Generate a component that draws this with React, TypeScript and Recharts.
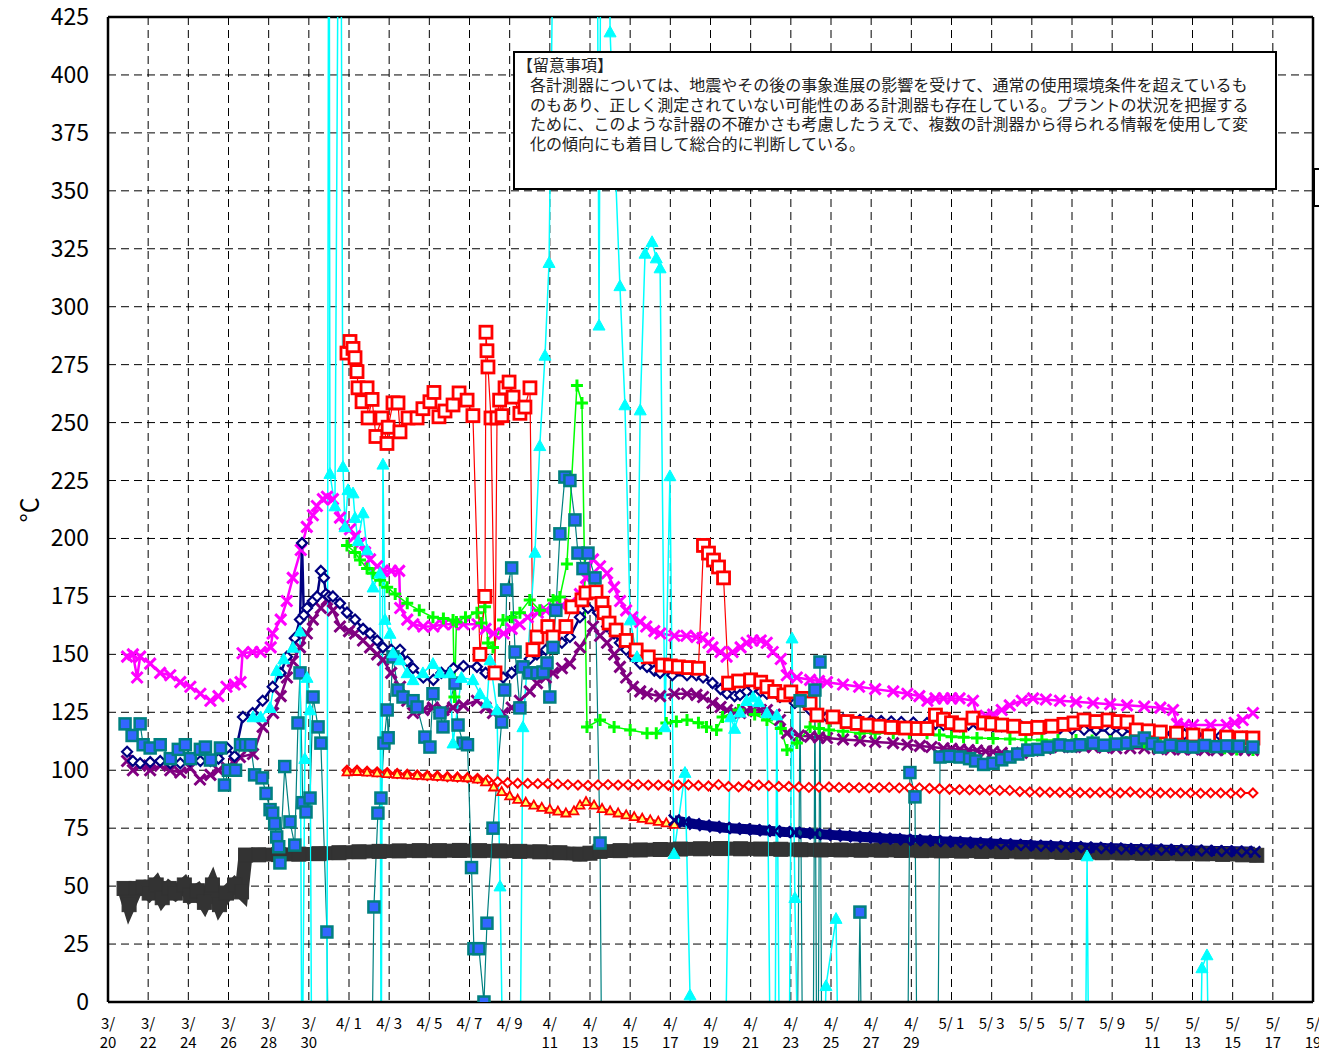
import React from 'react';
import { LineChart, Line, XAxis, YAxis, CartesianGrid, ReferenceLine } from 'recharts';

type Pt = [number, number | null];

// x = days since 3/20 0:00
const xTicks = [0, 2, 4, 6, 8, 10, 12, 14, 16, 18, 20, 22, 24, 26, 28, 30, 32, 34, 36, 38, 40, 42, 44, 46, 48, 50, 52, 54, 56, 58, 60];
const xTickLabels = [
  '3/\n20', '3/\n22', '3/\n24', '3/\n26', '3/\n28', '3/\n30', '4/ 1', '4/ 3', '4/ 5', '4/ 7', '4/ 9',
  '4/\n11', '4/\n13', '4/\n15', '4/\n17', '4/\n19', '4/\n21', '4/\n23', '4/\n25', '4/\n27', '4/\n29',
  '5/ 1', '5/ 3', '5/ 5', '5/ 7', '5/ 9', '5/\n11', '5/\n13', '5/\n15', '5/\n17', '5/\n19',
];
const yTicks = [0, 25, 50, 75, 100, 125, 150, 175, 200, 225, 250, 275, 300, 325, 350, 375, 400, 425];

const noteTitle = '【留意事項】';
const noteLines = [
  '各計測器については、地震やその後の事象進展の影響を受けて、通常の使用環境条件を超えているも',
  'のもあり、正しく測定されていない可能性のある計測器も存在している。プラントの状況を把握する',
  'ために、このような計器の不確かさも考慮したうえで、複数の計測器から得られる情報を使用して変',
  '化の傾向にも着目して総合的に判断している。',
];

const magenta: Pt[] = [
  [0.95, 149], [1.24, 150], [1.45, 140], [1.6, 149], [2.1, 146], [2.6, 142], [3.1, 141], [3.6, 138], [4.1, 136],
  [4.6, 133], [5.1, 130], [5.5, 132], [5.9, 136], [6.3, 137], [6.6, 138], [6.7, 150.5], [7.2, 151], [7.6, 151],
  [8.1, 153], [8.2, 159], [8.6, 165], [8.9, 173], [9.2, 183], [9.6, 195], [9.9, 205], [10.2, 210], [10.4, 214],
  [10.7, 217], [10.9, 218], [11.2, 217], [11.55, 209], [11.8, 206], [12.05, 204], [12.3, 201], [12.55, 198],
  [12.8, 194], [13.05, 191], [13.4, 188], [13.7, 186], [14.1, 186], [14.5, 186], [14.55, 170], [14.9, 165],
  [15.2, 163], [15.7, 162], [16.2, 162], [16.7, 163], [17.2, 163], [17.7, 163], [18.4, 163], [18.8, 161],
  [19.2, 159], [19.7, 159], [20.1, 161], [20.5, 163], [20.9, 166], [21.4, 168], [21.8, 169], [22.2, 170],
  [22.6, 171], [23.0, 172], [23.5, 176], [23.8, 183], [24.15, 191], [24.5, 188], [24.85, 185], [25.2, 179],
  [25.5, 173], [25.8, 169], [26.1, 166], [26.5, 164], [26.8, 162], [27.2, 160], [27.5, 159], [28.2, 158],
  [28.8, 158], [29.3, 157.5], [29.6, 157], [29.9, 155], [30.1, 153], [30.5, 151], [30.8, 149], [31.1, 151],
  [31.5, 153], [31.8, 155], [32.1, 156], [32.5, 156], [32.8, 155], [33.1, 151], [33.5, 148], [33.8, 141],
  [34.3, 140], [34.96, 139], [35.4, 138.5], [35.8, 138], [36.6, 137], [37.4, 136], [38.2, 135], [39.1, 134],
  [39.8, 133], [40.4, 132], [40.8, 130], [41.2, 131], [41.6, 131], [42.0, 131], [42.4, 131], [43.07, 130],
  [43.27, 123], [43.7, 123.5], [44.07, 124], [44.5, 126], [44.9, 128], [45.5, 130], [46.06, 131], [46.7, 130.5],
  [47.4, 130], [48.2, 129.5], [49.05, 129], [49.9, 128.5], [50.74, 128], [51.6, 127.5], [52.4, 127], [53.03, 126],
  [53.23, 120], [53.6, 119.5], [54.03, 119.5], [54.9, 119.5], [55.7, 119.5], [56.1, 120.5], [56.5, 121.7], [57.01, 124.7],
];

const navyDiamond: Pt[] = [
  [0.95, 108], [1.24, 104], [1.6, 103], [2.1, 103.5], [2.6, 104], [3.1, 103], [3.6, 103], [4.1, 104], [4.6, 104],
  [5.1, 104], [5.5, 105], [5.93, 109.6], [6.3, 106], [6.72, 123], [7.2, 124.7], [7.7, 130], [8.2, 136], [8.6, 142],
  [8.91, 149], [9.3, 157], [9.56, 165], [9.66, 198], [9.75, 167], [9.91, 170], [10.2, 173], [10.41, 175], [10.6, 186],
  [10.75, 183], [10.85, 176], [11.0, 175], [11.2, 175], [11.55, 172], [11.9, 168], [12.3, 165], [12.7, 161],
  [13.05, 159], [13.4, 156], [13.69, 153], [14.1, 152], [14.54, 152], [14.9, 147], [15.19, 144], [15.7, 140],
  [16.2, 139], [16.6, 142], [17.2, 144], [17.7, 145], [18.37, 144.6], [18.8, 142], [19.17, 142], [19.67, 140],
  [20.1, 142], [20.51, 144.6], [21.0, 148], [21.36, 150], [21.8, 152], [22.16, 153], [22.6, 155], [23.0, 157.5],
  [23.5, 166], [23.9, 170], [24.4, 168], [24.85, 162], [25.2, 159], [25.49, 155], [25.8, 152], [26.14, 149],
  [26.5, 146], [26.84, 144.6], [27.2, 143], [27.49, 142], [28.1, 141], [28.83, 141], [29.3, 141], [29.63, 140],
  [30.1, 137.6], [30.5, 135], [30.82, 133], [31.2, 132], [31.47, 132.5], [31.8, 134], [32.12, 135.5], [32.5, 134],
  [32.81, 133], [33.46, 131.6], [34.2, 129], [34.96, 126], [35.8, 123], [36.6, 122], [37.44, 121.7], [38.0, 121.5],
  [38.5, 121.2], [39.0, 121], [39.5, 120.8], [40.1, 120.6], [40.78, 120.4], [41.2, 120], [41.6, 119.5], [42.0, 119.3],
  [42.42, 119], [42.85, 119.6], [43.27, 120], [43.7, 119.5], [44.07, 119], [44.5, 119], [45.0, 119], [45.5, 118.8],
  [46.06, 118.5], [46.7, 118.2], [47.4, 118], [48.0, 117.8], [48.6, 117.5], [49.2, 117.3], [49.9, 117], [50.5, 116.8],
  [51.2, 116.5], [51.8, 116.3], [52.4, 116], [53.0, 115.8], [53.6, 115.5], [54.2, 115.3], [54.9, 115], [55.4, 114.8],
  [56.0, 114.5], [56.5, 114.3], [57.01, 114],
];

const purpleCross: Pt[] = [
  [0.95, 104], [1.24, 100], [1.6, 102], [2.1, 100], [2.6, 102], [3.1, 100], [3.6, 99], [4.1, 101], [4.58, 96],
  [5.1, 98], [5.5, 100], [5.93, 101], [6.3, 103], [6.57, 105.7], [7.22, 107], [7.7, 118.7], [8.22, 124.7], [8.6, 132],
  [8.91, 140], [9.2, 147], [9.56, 153], [9.9, 159], [10.2, 165], [10.6, 170], [10.9, 173.5], [11.2, 169], [11.55, 162],
  [12.0, 160], [12.3, 159], [12.7, 156], [13.05, 153], [13.4, 150], [13.69, 147.6], [14.1, 142], [14.54, 136],
  [14.9, 130], [15.19, 124.7], [15.7, 126], [16.18, 127], [16.7, 126], [17.18, 127], [17.7, 128], [18.37, 130],
  [18.8, 127], [19.17, 124.7], [19.67, 124.7], [20.1, 127], [20.51, 130], [21.0, 134], [21.36, 137.6], [21.8, 140],
  [22.16, 142], [22.6, 144], [23.0, 146], [23.5, 153], [24.15, 162], [24.5, 158], [24.85, 155], [25.2, 150],
  [25.49, 144.6], [25.8, 140], [26.14, 136], [26.5, 134], [26.84, 133], [27.49, 132], [28.2, 133], [28.83, 133],
  [29.3, 132.5], [29.63, 131.6], [30.1, 129], [30.5, 127.3], [30.82, 126], [31.2, 125], [31.47, 124.7], [31.8, 125.5],
  [32.12, 126], [32.5, 126], [32.81, 126], [33.2, 124], [33.46, 121.7], [33.81, 116], [34.4, 115], [34.96, 114.5],
  [35.4, 114.2], [35.8, 113.9], [36.6, 113.3], [37.44, 112.8], [38.2, 112.2], [39.09, 111.7], [39.8, 111],
  [40.43, 110.5], [41.0, 110], [41.6, 109.5], [42.0, 109.2], [42.42, 109], [42.85, 108.7], [43.27, 108.5],
  [43.7, 108.2], [44.07, 108], [44.5, 107.5], [44.91, 107], [45.5, 107.5], [46.06, 108.5], [46.7, 109.3], [47.4, 110],
  [48.0, 110], [48.6, 110], [49.05, 110], [49.6, 109.8], [50.2, 109.5], [50.9, 109.5], [51.6, 109.5], [52.3, 109.2],
  [52.9, 109], [53.5, 109], [54.03, 109], [54.6, 108.8], [55.2, 108.7], [55.7, 108.9], [56.2, 109], [56.6, 108.8],
  [57.01, 108.7],
];

const redSquare: Pt[] = [
  [11.9, 280], [12.05, 285], [12.2, 282], [12.3, 278], [12.4, 272], [12.45, 265], [12.65, 259], [12.9, 265],
  [12.95, 252], [13.15, 260], [13.34, 244], [13.64, 252], [13.89, 241], [13.95, 248], [14.19, 258.5], [14.44, 258.5],
  [14.54, 246], [14.94, 252], [15.39, 252], [15.68, 256], [16.03, 259], [16.23, 263], [16.48, 252.5], [16.78, 255],
  [17.18, 257.6], [17.48, 262.8], [17.88, 259.7], [18.17, 253], [18.52, 150], [18.77, 175], [18.82, 289], [18.87, 281],
  [18.92, 274], [19.07, 252], [19.27, 142], [19.37, 252], [19.5, 259.7], [19.62, 253], [19.77, 265], [19.97, 267.5],
  [20.17, 261], [20.51, 254], [20.76, 256.7], [21.01, 265], [21.16, 152], [21.36, 157.5], [21.9, 162], [22.16, 157.5],
  [22.8, 162], [23.1, 170.5], [23.6, 173.5], [23.8, 176.5], [24.3, 177], [24.6, 172], [24.7, 168], [24.95, 163.5],
  [25.3, 160.5], [25.8, 156], [26.3, 151.9], [26.9, 148.9], [27.6, 145.4], [28.0, 145], [28.4, 144.6], [28.9, 144.3],
  [29.4, 144], [29.65, 197], [29.9, 193.7], [30.15, 190.7], [30.4, 187.7], [30.65, 183], [30.9, 137.6], [31.4, 138.5],
  [32.0, 139], [32.5, 138], [32.81, 136], [33.2, 134], [33.66, 132.5], [34.0, 133.8], [34.6, 131], [34.96, 129],
  [35.3, 123.8], [36.1, 123], [36.8, 121], [37.3, 120.2], [37.8, 119.5], [38.4, 119], [39.0, 118.5], [39.7, 118.2],
  [40.3, 118], [40.78, 118], [41.2, 123.8], [41.6, 122], [42.0, 120.5], [42.42, 119.5], [43.07, 122.5], [43.6, 120.4],
  [44.0, 120], [44.5, 119.5], [45.1, 119], [45.7, 118], [46.3, 118.5], [47.0, 119], [47.6, 119.8], [48.1, 120.4],
  [48.6, 121.7], [49.2, 121], [49.8, 121.7], [50.3, 121], [50.74, 120.8], [51.2, 117.4], [51.8, 117], [52.4, 116.5],
  [53.2, 116], [54.03, 115.2], [54.8, 114.8], [55.7, 114.3], [56.4, 114], [57.01, 113.9],
];

const greenPlus: Pt[] = [
  [11.9, 197], [12.3, 194], [12.55, 190.7], [12.9, 187], [13.2, 185], [13.55, 182], [13.9, 179], [14.3, 176],
  [14.9, 172], [15.5, 169], [16.18, 166], [16.7, 165.5], [17.18, 164.8], [17.25, 131.6], [17.35, 164], [17.8, 166],
  [18.37, 168], [18.6, 163.5], [18.77, 170.5], [18.92, 154.9], [19.17, 153], [19.67, 164.8], [20.1, 166],
  [20.51, 168], [21.0, 173.5], [21.5, 169], [22.16, 173.5], [22.5, 174.8], [22.85, 189], [23.35, 266], [23.6, 258.5],
  [23.85, 118.7], [24.5, 121.7], [25.2, 118.7], [26.0, 117.4], [26.84, 116], [27.3, 116], [27.8, 120.4], [28.3, 121],
  [28.83, 121.7], [29.4, 120.5], [29.8, 118.7], [30.3, 117.4], [30.6, 123], [31.4, 126], [32.2, 124], [32.81, 121.7],
  [33.5, 118], [33.81, 108.7], [34.3, 111.7], [34.96, 118.7], [35.4, 118], [35.9, 117.4], [36.6, 116.8], [37.44, 116],
  [38.2, 116], [39.1, 116], [39.9, 116], [40.78, 116], [41.4, 115.2], [42.0, 114.5], [42.6, 114.2], [43.27, 113.9],
  [44.07, 113.7], [44.91, 113.5], [45.7, 113.2], [46.5, 113], [47.3, 113], [48.2, 113], [49.0, 112.8], [49.9, 112.5],
  [50.7, 112.2], [51.6, 112], [52.4, 111.5], [53.2, 111], [54.0, 110.5], [54.9, 110], [55.6, 109.5], [56.2, 109],
  [57.01, 108.7],
];

const redDiamond: Pt[] = [
  [11.9, 100], [12.4, 100], [12.9, 99.6], [13.4, 99.3], [13.9, 99], [14.4, 98.6], [14.9, 98.3], [15.4, 98], [15.9, 97.7],
  [16.4, 97.5], [16.9, 97.2], [17.4, 97], [17.9, 96.8], [18.4, 96.5], [18.9, 95.8], [19.4, 95], [19.9, 94.6],
  [20.4, 94.4], [20.9, 94.3], [21.4, 94.2], [21.9, 94.2], [22.4, 94], [22.9, 93.8], [23.4, 93.6], [23.9, 93.5],
  [24.4, 93.7], [24.9, 93.8], [25.4, 93.6], [25.9, 93.7], [26.4, 93.8], [26.9, 93.6], [27.4, 93.6], [27.9, 93.5],
  [28.4, 93.6], [28.9, 93.7], [29.4, 93.4], [29.9, 93.2], [30.4, 93.8], [30.9, 93], [31.4, 92.8], [31.9, 93.4],
  [32.4, 93.6], [32.9, 93.3], [33.4, 93], [33.9, 93], [34.4, 92.8], [34.9, 92.6], [35.4, 92.7], [35.9, 92.8],
  [36.4, 92.6], [36.9, 92.5], [37.4, 92.5], [37.9, 92.4], [38.4, 92.5], [38.9, 92.6], [39.4, 92.4], [39.9, 92.3],
  [40.4, 92.4], [40.9, 92.2], [41.4, 92], [41.9, 91.8], [42.4, 91.6], [42.9, 91.5], [43.4, 91.5], [43.9, 91.4],
  [44.4, 91.3], [44.9, 91.3], [45.4, 90.8], [45.9, 90.6], [46.4, 90.6], [46.9, 90.5], [47.4, 90.5], [47.9, 90.4],
  [48.4, 90.4], [48.9, 90.3], [49.4, 90.5], [49.9, 90.2], [50.4, 90.3], [50.9, 90.6], [51.4, 90.2], [51.9, 90.2],
  [52.4, 90.3], [52.9, 90.2], [53.4, 90.2], [53.9, 90.2], [54.4, 90.1], [54.9, 90.2], [55.4, 90.2], [55.9, 90.1],
  [56.4, 90.2], [57.01, 90.2],
];

const redTriangle: Pt[] = [
  [11.9, 99.3], [12.4, 99.5], [12.9, 99.2], [13.4, 98.9], [13.9, 98.6], [14.4, 98.3], [14.9, 98], [15.4, 97.8],
  [15.9, 97.6], [16.4, 97.4], [16.9, 97.2], [17.4, 97], [17.9, 96.8], [18.4, 96.2], [18.8, 95], [19.2, 92.8],
  [19.6, 90.8], [20.0, 89], [20.4, 87.5], [20.8, 86.2], [21.2, 85], [21.6, 84], [22.0, 83.2], [22.4, 82.4],
  [22.8, 81.6], [23.2, 82.5], [23.5, 85], [23.8, 86.5], [24.2, 85], [24.6, 83.5], [25.0, 82.5], [25.4, 81.6],
  [25.8, 80.8], [26.2, 80], [26.6, 79.3], [27.0, 78.6], [27.4, 78], [27.8, 77.3], [28.2, 76.7],
];

const navyCross: Pt[] = [
  [28.2, 78.5], [28.7, 77.6], [29.2, 76.8], [29.7, 76.2], [30.2, 75.7], [30.7, 75.2], [31.2, 74.9], [31.7, 74.6],
  [32.2, 74.3], [32.7, 74], [33.2, 73.7], [33.7, 73.4], [34.2, 73.2], [34.7, 72.9], [35.2, 72.6], [35.7, 72.3],
  [36.2, 72], [36.7, 71.7], [37.2, 71.4], [37.7, 71.2], [38.2, 70.9], [38.7, 70.6], [39.2, 70.4], [39.7, 70.1],
  [40.2, 69.9], [40.7, 69.7], [41.2, 69.5], [41.7, 69.3], [42.2, 69.1], [42.7, 68.9], [43.2, 68.7], [43.7, 68.5],
  [44.2, 68.3], [44.7, 68.1], [45.2, 67.9], [45.7, 67.7], [46.2, 67.5], [46.7, 67.4], [47.2, 67.2], [47.7, 67],
  [48.2, 66.9], [48.7, 66.7], [49.2, 66.6], [49.7, 66.4], [50.2, 66.3], [50.7, 66.1], [51.2, 66], [51.7, 65.9],
  [52.2, 65.8], [52.7, 65.7], [53.2, 65.6], [53.7, 65.5], [54.2, 65.4], [54.7, 65.3], [55.2, 65.2], [55.7, 65.1],
  [56.2, 65], [56.7, 64.9], [57.1, 64.8],
];

const darkSquare: Pt[] = [
  [0.8, 49], [1.05, 42], [1.4, 49], [1.75, 49.6], [2.05, 47], [2.4, 50.5], [2.7, 45], [3.05, 49], [3.35, 47],
  [3.8, 50.5], [4.1, 46], [4.45, 48], [4.8, 43], [5.2, 50.5], [5.55, 42], [5.9, 47], [6.3, 50.5], [6.65, 47.5],
  [6.85, 63.4], [7.5, 63.5], [8.5, 63.6], [9.5, 63.8], [10.5, 64], [11.5, 64.4], [12.5, 64.8], [13.5, 65],
  [14.5, 65.2], [15.5, 65.3], [16.5, 65.3], [17.5, 65.4], [18.5, 65.3], [19.5, 65.2], [20.5, 65], [21.5, 64.8],
  [22.5, 64.4], [23.5, 63.8], [24.0, 64.2], [24.5, 65], [25.5, 65.3], [26.5, 65.6], [27.5, 65.8], [28.5, 66],
  [29.5, 66.1], [30.5, 66.2], [31.5, 66.1], [32.5, 66], [33.5, 65.9], [34.5, 65.7], [35.5, 65.6], [36.5, 65.6],
  [37.5, 65.5], [38.5, 65.5], [39.5, 65.4], [40.5, 65.3], [41.5, 65.2], [42.5, 65.1], [43.5, 65], [44.5, 64.9],
  [45.5, 64.8], [46.5, 64.7], [47.5, 64.6], [48.5, 64.5], [49.5, 64.4], [50.5, 64.3], [51.5, 64.2], [52.5, 64.1],
  [53.5, 64], [54.5, 63.9], [55.5, 63.7], [56.5, 63.5], [57.2, 63.3],
];

// readings (above 425 or below 0) are kept as read, the axes clip them
const tealSquare: Pt[] = [
  [0.85, 120], [1.2, 115], [1.6, 120], [1.75, 111], [2.1, 109.6], [2.6, 111], [3.1, 105], [3.5, 109], [3.85, 111],
  [4.1, 105], [4.6, 109], [4.85, 110], [5.1, 104.4], [5.6, 109.6], [5.8, 93.6], [6.0, 100], [6.35, 100], [6.6, 111],
  [6.85, 111], [7.1, 111], [7.3, 98], [7.67, 96.7], [7.87, 90], [8.07, 83], [8.2, 81.5], [8.3, 77], [8.4, 71.2],
  [8.5, 67], [8.56, 60], [8.8, 101.6], [9.06, 77.7], [9.3, 67.7], [9.46, 120.4], [9.56, 142], [9.7, 86], [9.86, 82],
  [10.06, 88], [10.21, 131.6], [10.46, 118.7], [10.6, 111.7], [10.9, 30.2], [11.0, -50], [13.1, -50], [13.24, 41],
  [13.44, 81.5], [13.59, 88], [13.74, 111.7], [13.9, 126], [13.95, 114], [14.19, 148.9], [14.44, 134.6],
  [14.69, 131.6], [15.19, 130], [15.39, 127.3], [15.78, 114.3], [16.03, 110], [16.18, 133], [16.53, 124.7],
  [16.68, 118.7], [17.28, 137.6], [17.43, 119.5], [17.68, 111.7], [17.9, 111], [18.1, 58], [18.22, 23], [18.47, 23],
  [18.72, 0], [18.87, 34], [19.17, 75], [19.6, 120.8], [19.75, 134.6], [19.85, 177.8], [20.1, 187.3], [20.27, 151],
  [20.51, 126.9], [20.66, 144.6], [21.0, 142], [21.36, 142], [21.66, 142.4], [21.86, 146.3], [22.0, 131.6],
  [22.16, 153], [22.3, 169], [22.5, 202], [22.75, 226.5], [23.0, 225], [23.25, 208], [23.4, 193.7], [23.65, 187],
  [23.9, 193.7], [24.25, 183], [24.5, 68.6], [24.6, -50], [34.3, -50], [34.46, 130], [34.6, -50], [35.1, -50],
  [35.2, 134.6], [35.3, -50], [35.35, -50], [35.45, 146.7], [35.55, -50], [37.3, -50], [37.44, 38.8], [37.55, -50],
  [39.8, -50], [39.93, 99], [40.18, 88.5], [40.3, -50], [41.3, -50], [41.43, 105.7], [41.9, 106], [42.42, 105.7],
  [42.9, 105], [43.2, 104], [43.6, 102.5], [44.07, 103], [44.5, 104.5], [44.91, 105.7], [45.3, 107], [45.8, 108.7],
  [46.3, 109], [46.8, 110], [47.4, 110.9], [47.9, 110.5], [48.4, 111], [49.05, 111.7], [49.6, 110.8], [50.2, 111.3],
  [50.74, 111.7], [51.2, 112.5], [51.6, 113.9], [52.0, 111.5], [52.38, 110], [52.9, 110.8], [53.5, 110.3],
  [54.03, 110], [54.6, 110.7], [55.2, 110.2], [55.7, 110.5], [56.3, 110.4], [57.01, 110],
];

const cyanTriangle: Pt[] = [
  [7.22, 123], [7.6, 123], [8.07, 127], [8.4, 143], [8.75, 148], [9.21, 153], [9.56, 160], [9.66, -50], [9.8, 105],
  [9.91, 140], [10.06, 126], [10.15, -50], [10.9, -50], [11.0, 600], [11.05, 228], [11.3, 214], [11.55, 600],
  [11.7, 231], [11.8, 205], [11.95, 221], [12.2, 219.6], [12.3, 209], [12.45, 199], [12.7, 211], [12.9, 195],
  [13.2, 179], [13.54, 185], [13.6, -50], [13.69, 232], [13.79, 165], [14.04, 159], [14.19, 150.6], [14.54, 147.6],
  [14.89, 142], [15.19, 139], [15.68, 142], [16.18, 146], [16.53, 142], [17.03, 142], [17.18, 111.7], [17.6, 140],
  [18.17, 139], [18.52, 133], [18.87, 129], [19.02, 147.6], [19.37, 126], [19.52, 50], [19.7, -50], [20.5, -50],
  [20.66, 118.7], [21.26, 194], [21.5, 240], [21.76, 279], [21.96, 319], [22.36, 600], [24.3, 600], [24.45, 292],
  [24.6, 600], [24.85, 600], [25.0, 418.5], [25.49, 309], [25.74, 257.6], [26.0, 164.8], [26.34, 149], [26.5, 255.4],
  [26.74, 323], [27.09, 328], [27.3, 321], [27.49, 316.7], [27.73, 118.7], [27.98, 227], [28.18, 64], [28.73, 99],
  [28.98, 3], [29.2, -50], [30.7, -50], [31.0, 123], [31.2, 118], [31.47, 125], [31.8, 130], [32.12, 131.6],
  [32.4, 129.5], [32.81, 124.7], [33.0, -50], [33.2, -50], [33.3, 123.8], [33.45, -50], [33.9, -50], [34.06, 157],
  [34.2, 45], [34.4, -50], [35.6, -50], [35.75, 7], [36.25, 36], [36.4, -50], [36.45, null], [48.6, null],
  [48.65, -50], [48.75, 63], [48.85, -50], [48.9, null], [54.3, null], [54.35, -50], [54.47, 14.7], [54.72, 20.3],
  [54.85, -50],
];

const FONT = '"Noto Sans CJK JP", "Noto Sans", sans-serif';

const toRows = (pts: Pt[]) => pts.map(([d, v]) => ({ d, v }));

type Shape = 'cross' | 'plus' | 'diamond' | 'square' | 'triangle';

const marker = (shape: Shape, stroke: string, fill: string, r: number, sw: number) => (props: any) => {
  const { cx, cy, index, value } = props;
  const key = `m-${index}`;
  if (cx == null || cy == null || value == null || Number.isNaN(cy)) return <g key={key} />;
  if (shape === 'cross') {
    return (
      <path key={key} d={`M${cx - r},${cy - r}L${cx + r},${cy + r}M${cx - r},${cy + r}L${cx + r},${cy - r}`}
        stroke={stroke} strokeWidth={sw} fill="none" />
    );
  }
  if (shape === 'plus') {
    return (
      <path key={key} d={`M${cx - r},${cy}L${cx + r},${cy}M${cx},${cy - r}L${cx},${cy + r}`}
        stroke={stroke} strokeWidth={sw} fill="none" />
    );
  }
  if (shape === 'diamond') {
    return (
      <path key={key} d={`M${cx},${cy - r}L${cx + r},${cy}L${cx},${cy + r}L${cx - r},${cy}Z`}
        stroke={stroke} strokeWidth={sw} fill={fill} />
    );
  }
  if (shape === 'square') {
    return <rect key={key} x={cx - r} y={cy - r} width={2 * r} height={2 * r} stroke={stroke} strokeWidth={sw} fill={fill} />;
  }
  return (
    <path key={key} d={`M${cx},${cy - r}L${cx + r},${cy + r * 0.8}L${cx - r},${cy + r * 0.8}Z`}
      stroke={stroke} strokeWidth={sw} fill={fill} />
  );
};

// drawing order: first is at the bottom
const series = [
  { id: 'redDiamond', pts: redDiamond, color: '#ff0000', width: 2, dot: marker('diamond', '#ff0000', '#ffffff', 4.5, 2) },
  { id: 'redTriangle', pts: redTriangle, color: '#ff0000', width: 2, dot: marker('triangle', '#ff0000', '#ffff66', 4.5, 1.8) },
  { id: 'darkSquare', pts: darkSquare, color: '#333333', width: 14, dot: marker('square', '#333333', '#333333', 7, 1) },
  { id: 'navyCross', pts: navyCross, color: '#000080', width: 10, dot: marker('cross', '#000080', 'none', 5.5, 2.5) },
  { id: 'magenta', pts: magenta, color: '#ff00ff', width: 2.5, dot: marker('cross', '#ff00ff', 'none', 5.5, 3) },
  { id: 'purpleCross', pts: purpleCross, color: '#800080', width: 2.5, dot: marker('cross', '#800080', 'none', 5.5, 3) },
  { id: 'navyDiamond', pts: navyDiamond, color: '#000080', width: 2.5, dot: marker('diamond', '#000080', '#ffffff', 5, 2.2) },
  { id: 'greenPlus', pts: greenPlus, color: '#00ff00', width: 1.5, dot: marker('plus', '#00ff00', 'none', 6, 3) },
  { id: 'redSquare', pts: redSquare, color: '#ff0000', width: 1.2, dot: marker('square', '#ff0000', '#ffffff', 6, 2.8) },
  { id: 'tealSquare', pts: tealSquare, color: '#008080', width: 1.2, dot: marker('square', '#008080', '#3366ff', 5.5, 2.5) },
  { id: 'cyanTriangle', pts: cyanTriangle, color: '#00ffff', width: 1.5, dot: marker('triangle', '#00ffff', '#00ffff', 6, 1) },
];

const XTick = (props: any) => {
  const { x, y, payload } = props;
  const label = xTickLabels[xTicks.indexOf(payload.value)] ?? '';
  return (
    <g>
      {label.split('\n').map((t, i) => (
        <text key={i} x={x} y={y + 27 + i * 19} textAnchor="middle" fontSize={15} fontFamily={FONT} fill="#000">
          {t}
        </text>
      ))}
    </g>
  );
};

const YTick = (props: any) => {
  const { x, y, payload } = props;
  return (
    <text x={x - 19} y={y + 8} textAnchor="end" fontSize={23} fontFamily={FONT} fill="#000">
      {payload.value}
    </text>
  );
};

export default function App() {
  return (
    <div style={{ position: 'absolute', left: 0, top: 0, width: 1319, height: 1054, overflow: 'hidden', background: '#fff' }}>
      <LineChart width={1319} height={1054} margin={{ top: 17, right: 6, bottom: 0, left: 0 }}>
        <CartesianGrid stroke="#000" strokeDasharray="8 5" strokeWidth={1} />
        <XAxis dataKey="d" type="number" domain={[0, 60]} ticks={xTicks} interval={0} allowDataOverflow
          height={52} tickSize={0} tickMargin={0} tickLine={false} axisLine={{ stroke: '#000', strokeWidth: 2.5 }}
          tick={<XTick />} />
        <YAxis type="number" domain={[0, 425]} ticks={yTicks} interval={0} allowDataOverflow width={108}
          tickSize={0} tickMargin={0} tickLine={false} axisLine={{ stroke: '#000', strokeWidth: 2.5 }}
          tick={<YTick />} />
        <ReferenceLine y={425} stroke="#000" strokeWidth={2.5} />
        <ReferenceLine x={60} stroke="#000" strokeWidth={2.5} />
        {series.map((s) => (
          <Line key={s.id} name={s.id} data={toRows(s.pts)} dataKey="v" type="linear" stroke={s.color}
            strokeWidth={s.width} dot={s.dot} activeDot={false} isAnimationActive={false} connectNulls={false} />
        ))}
      </LineChart>
      <div style={{
        position: 'absolute', left: 6, top: 490, width: 44, height: 40, transform: 'rotate(-90deg)',
        fontFamily: FONT, fontSize: 25, lineHeight: '40px', textAlign: 'center', color: '#000',
      }}>°C</div>
      <div style={{
        position: 'absolute', left: 513, top: 51, width: 764, height: 139, boxSizing: 'border-box',
        border: '2px solid #000', background: '#fff', fontFamily: FONT, fontSize: 16, color: '#222',
        padding: '1px 0 0 0', whiteSpace: 'nowrap',
      }}>
        <div style={{ lineHeight: '20px', height: 21, paddingLeft: 2 }}>{noteTitle}</div>
        {noteLines.map((l, i) => (
          <div key={i} style={{ lineHeight: '19.6px', height: 19.6, paddingLeft: 15 }}>{l}</div>
        ))}
      </div>
      <div style={{ position: 'absolute', left: 1313, top: 168, width: 30, height: 35, border: '2px solid #000', background: '#fff' }} />
    </div>
  );
}
